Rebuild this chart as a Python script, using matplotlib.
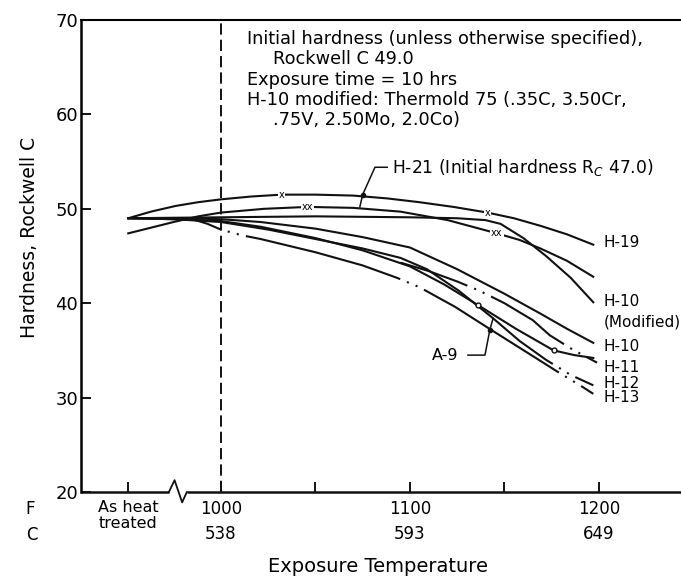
import numpy as np
import matplotlib.pyplot as plt

# temperatures in F, hardness in Rockwell C
t_h19 = [951, 963, 976, 988, 1000, 1016, 1032, 1050, 1070, 1088, 1105, 1123, 1141, 1155, 1169, 1183, 1197]
h_h19 = [49.0, 49.7, 50.3, 50.7, 51.0, 51.3, 51.5, 51.5, 51.4, 51.1, 50.7, 50.2, 49.6, 49.0, 48.2, 47.3, 46.2]

t_h21 = [951, 963, 975, 988, 1000, 1023, 1046, 1070, 1095, 1120, 1146, 1158, 1169, 1183, 1197]
h_h21 = [47.4, 48.0, 48.6, 49.2, 49.6, 50.0, 50.2, 50.1, 49.7, 48.8, 47.4, 46.7, 45.8, 44.5, 42.8]

t_h10m = [951, 975, 1000, 1050, 1100, 1125, 1140, 1148, 1160, 1172, 1185, 1197]
h_h10m = [49.0, 49.05, 49.1, 49.2, 49.1, 49.0, 48.8, 48.4, 46.9, 45.0, 42.7, 40.1]

t_h10 = [951, 975, 1000, 1021, 1050, 1075, 1100, 1125, 1150, 1169, 1183, 1197]
h_h10 = [49.0, 49.0, 48.9, 48.6, 47.9, 47.0, 45.9, 43.6, 41.0, 38.9, 37.3, 35.8]

t_h11 = [951, 975, 1000, 1021, 1050, 1075, 1100, 1118, 1136, 1156, 1176, 1187, 1197]
h_h11 = [49.0, 48.9, 48.7, 48.1, 46.9, 45.6, 43.9, 42.0, 39.8, 37.3, 35.0, 34.5, 34.2]

t_h11b = [1095, 1110, 1125, 1137, 1150, 1165, 1174, 1186, 1199]
h_h11b = [44.3, 43.4, 42.3, 41.3, 40.0, 38.2, 36.6, 35.1, 33.7]

t_a9 = [951, 975, 1000, 1025, 1050, 1075, 1095, 1109, 1126, 1144, 1158, 1172, 1185, 1197]
h_a9 = [49.0, 48.9, 48.6, 47.8, 46.8, 45.8, 44.8, 43.6, 41.3, 38.4, 36.0, 34.0, 32.4, 31.3]

t_h13 = [975, 985, 993, 1000, 1011, 1021, 1050, 1075, 1093, 1105, 1124, 1142, 1165, 1180, 1190, 1197]
h_h13 = [49.0, 48.9, 48.4, 47.8, 47.2, 46.8, 45.4, 44.0, 42.7, 41.7, 39.6, 37.3, 34.4, 32.5, 31.3, 30.4]

# marker positions on H-19, H-21, H-11
x_marks_h19 = [1032, 1141]
x_marks_h21 = [1046, 1146]
o_marks_h11 = [1136, 1176]

right_labels = [('H-19', 46.4), ('H-10', 40.2), ('(Modified)', 38.0),
                ('H-10', 35.4), ('H-11', 33.2), ('H-12', 31.5), ('H-13', 30.0)]

notes = [("Initial hardness (unless otherwise specified),", 1013.8, 68.0),
         ("Rockwell C 49.0", 1027.5, 65.9),
         ("Exposure time = 10 hrs", 1013.8, 63.6),
         ("H-10 modified: Thermold 75 (.35C, 3.50Cr,", 1013.8, 61.5),
         (".75V, 2.50Mo, 2.0Co)", 1027.5, 59.4)]

f_ticks = [951, 1000, 1050, 1100, 1150, 1200]
f_pos = [1000, 1100, 1200]
f_labels = ['1000', '1100', '1200']
c_labels = ['538', '593', '649']

fig = plt.figure(figsize=(6.81, 5.78), dpi=100)
ax = fig.add_axes([81/681, 86/578, 600/681, 472/578])
ax.set_xlim(926, 1243.4)
ax.set_ylim(20, 70)

lw = 1.5
k = '#111111'
dots = [3.5, 1, 3.5, 1, 3.5]
ax.plot(t_h19, h_h19, color=k, lw=lw)
ax.plot(t_h21, h_h21, color=k, lw=lw)
ax.plot(t_h10m, h_h10m, color=k, lw=lw)
ax.plot(t_h10, h_h10, color=k, lw=lw)
ax.plot(t_h11, h_h11, color=k, lw=lw)
ax.plot(t_h11b, h_h11b, color=k, lw=lw, dashes=[34] + dots + [42] + dots + [60, 1])
ax.plot(t_a9, h_a9, color=k, lw=lw, dashes=[222] + dots + [80, 1])
ax.plot(t_h13, h_h13, color=k, lw=lw,
        dashes=[23.5] + dots + [77] + dots + [76] + dots + [60, 1])

for xm in x_marks_h19:
    ax.text(xm, np.interp(xm, t_h19, h_h19), 'x', fontsize=7, ha='center', va='center',
            bbox=dict(fc='white', ec='none', pad=0.6))
for xm in x_marks_h21:
    ax.text(xm, np.interp(xm, t_h21, h_h21), 'xx', fontsize=7, ha='center', va='center',
            bbox=dict(fc='white', ec='none', pad=0.6))
for xm in o_marks_h11:
    ax.plot(xm, np.interp(xm, t_h11, h_h11), 'o', ms=3.5, mfc='white', mec=k, mew=1)

# vertical dashed line at 1000 F
ax.plot([1000, 1000], [20, 70], color=k, lw=1.4, dashes=(5.8, 2.6))

# leaders to H-21 and A-9
ax.plot([1088, 1081.5, 1075, 1073.5], [54.4, 54.4, 51.5, 50.2], color=k, lw=1.1)
ax.plot(1075, 51.5, 'o', ms=3, color=k)
ax.text(1090.5, 54.4, r'H-21 (Initial hardness R$_C$ 47.0)', fontsize=12.3, va='center')
ax.plot([1130.7, 1139.7, 1142.3, 1144], [34.5, 34.5, 37.2, 38.4], color=k, lw=1.1)
ax.plot(1142.3, 37.2, 'o', ms=3, color=k)
ax.text(1118.5, 34.5, 'A-9', fontsize=11.5, va='center', ha='center')

for txt, y in right_labels:
    ax.text(1202.6, y, txt, fontsize=11, va='center', ha='left', clip_on=False)

for txt, x, y in notes:
    ax.text(x, y, txt, fontsize=12.8, va='center', ha='left')

# axes frame
for s in ['right', 'bottom']:
    ax.spines[s].set_visible(False)
ax.spines['left'].set_linewidth(1.8)
ax.spines['top'].set_linewidth(1.5)
ax.set_yticks([20, 30, 40, 50, 60, 70])
ax.tick_params(axis='y', direction='in', length=7, width=1.3, labelsize=13, pad=2)
ax.set_xticks(f_ticks)
ax.set_xticklabels([])
ax.tick_params(axis='x', direction='in', length=7, width=1.3)

# bottom axis with a break mark
tb = ax.get_xaxis_transform()
ax.plot([926, 972.5], [0, 0], color=k, lw=1.8, transform=tb, clip_on=False, solid_capstyle='butt')
ax.plot([972.5, 975.5, 979.5, 982], [0, 0.025, -0.022, 0], color=k, lw=1.3, transform=tb, clip_on=False)
ax.plot([982, 1243.4], [0, 0], color=k, lw=1.8, transform=tb, clip_on=False, solid_capstyle='butt')

for t, f, c in zip(f_pos, f_labels, c_labels):
    ax.text(t, -0.035, f, transform=tb, fontsize=12, ha='center', va='center')
    ax.text(t, -0.09, c, transform=tb, fontsize=12, ha='center', va='center')
ax.text(951, -0.032, 'As heat', transform=tb, fontsize=11.5, ha='center', va='center')
ax.text(951, -0.066, 'treated', transform=tb, fontsize=11.5, ha='center', va='center')
fig.text(30/681, 1-509/578, 'F', fontsize=12, ha='center', va='center')
fig.text(32/681, 1-535/578, 'C', fontsize=12, ha='center', va='center')
fig.text(378/681, 1-567/578, 'Exposure Temperature', fontsize=14, ha='center', va='center')
fig.text(30/681, 1-237/578, 'Hardness, Rockwell C', fontsize=13.5, ha='center', va='center',
         rotation=90)

fig.savefig('out.png', dpi=100)
